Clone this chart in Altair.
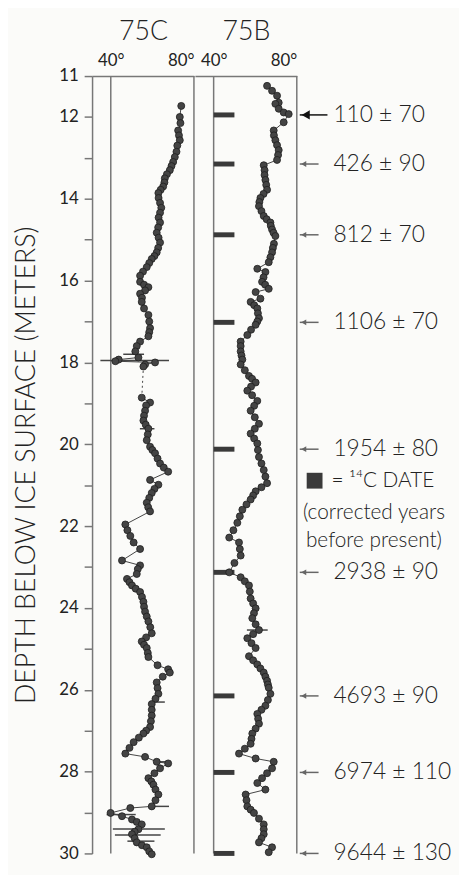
import altair as alt
import pandas as pd

# ---- data ----
c_depth = [11.73, 12.0, 12.33, 12.57, 12.85, 13.1, 13.3, 13.5, 13.7, 13.86, 14.1, 14.34, 14.58, 14.83,
           15.07, 15.31, 15.47, 15.67, 15.88, 16.03, 16.16, 16.32, 16.52, 16.84, 17.16, 17.36, 17.49,
           17.73, 17.88, 17.93, 17.97, 18.0, 18.05, 18.1,
           18.86, 18.98, 19.18, 19.42, 19.62, 19.9, 20.06, 20.22, 20.47, 20.67, 20.87, 20.99, 21.19,
           21.43, 21.64, 21.96, 22.24, 22.4, 22.56, 22.84, 22.96, 23.17, 23.29, 23.45, 23.61, 23.85,
           24.09, 24.33, 24.62, 24.82, 24.98, 25.2, 25.4, 25.5, 25.58, 25.82, 26.1, 26.35, 26.63,
           26.91, 27.07, 27.28, 27.56, 27.64, 27.76, 27.8, 27.92, 28.16, 28.32, 28.56, 28.85, 28.89,
           29.01, 29.09, 29.17, 29.29, 29.41, 29.53, 29.73, 29.85, 30.02]
c_val = [73.9, 73.2, 72.4, 73.2, 71.6, 70.0, 68.4, 66.0, 65.2, 62.9, 63.7, 63.7, 63.7, 62.1,
         63.7, 62.1, 59.7, 57.3, 54.1, 54.1, 58.1, 54.1, 54.9, 58.1, 58.9, 58.1, 54.1,
         51.8, 53.3, 43.8, 42.2, 61.3, 56.5, 55.7,
         54.9, 58.9, 56.5, 55.7, 58.1, 57.3, 58.9, 61.3, 63.7, 67.6, 58.9, 62.9, 59.7,
         57.3, 58.9, 47.0, 49.4, 51.0, 54.1, 45.4, 54.1, 52.5, 47.8, 50.2, 54.1, 55.7,
         56.5, 58.1, 59.7, 54.9, 57.3, 58.1, 62.5, 67.6, 68.4, 62.1, 62.9, 59.7, 59.7,
         58.9, 55.7, 51.0, 47.0, 56.5, 62.1, 67.6, 63.7, 58.1, 60.5, 62.9, 59.7, 49.4,
         39.9, 45.4, 50.2, 54.9, 53.3, 50.2, 52.5, 57.3, 59.7]
# further points read between the ones above
c_depth2 = [12.15, 12.45, 12.7, 12.98, 13.2, 13.4, 13.6, 13.78, 13.98, 14.22, 14.46, 14.7, 14.95,
            15.2, 15.4, 15.57, 15.78, 16.1, 16.24, 16.42, 16.68, 17.0, 17.26, 17.6,
            19.05, 19.3, 19.52, 19.76, 20.14, 20.35, 20.57, 21.09, 21.31, 21.54, 22.1, 23.05,
            23.37, 23.53, 23.73, 23.97, 24.21, 24.47, 24.72, 24.9, 25.1, 25.68, 25.96, 26.22,
            26.49, 26.77, 27.0, 27.17, 27.42, 28.04, 28.24, 28.44, 28.7, 29.23, 29.47, 29.63,
            29.8, 29.95]
c_val2 = [73.5, 72.8, 72.0, 70.8, 69.2, 67.0, 65.8, 64.0, 63.0, 64.3, 63.0, 62.8, 63.0,
          62.8, 61.0, 58.5, 55.5, 56.0, 56.5, 55.0, 56.0, 58.5, 58.5, 52.5,
          57.0, 56.0, 56.8, 57.8, 60.0, 62.5, 65.5, 61.0, 58.5, 58.0, 48.0, 53.0,
          49.0, 52.0, 55.0, 56.0, 57.3, 59.0, 57.0, 56.0, 57.8, 65.0, 62.5, 61.5,
          59.7, 59.3, 57.0, 53.5, 49.0, 61.0, 59.5, 61.5, 61.5, 52.5, 51.5, 51.5,
          55.0, 58.5]
c_gap_after = 18.1  # dashed gap between 18.1 m and 18.86 m

b_depth = [11.24, 11.36, 11.48, 11.65, 11.68, 11.8, 11.89, 11.93, 12.13, 12.33, 12.57, 12.81, 13.05,
           13.18, 13.54, 13.78, 13.98, 14.18, 14.42, 14.58, 14.75, 14.91, 15.1, 15.31, 15.55, 15.71,
           15.79, 16.03, 16.2, 16.28, 16.44, 16.52, 16.68, 16.92, 17.08, 17.33, 17.49, 17.73, 17.93,
           18.05, 18.33, 18.49, 18.69, 18.94, 19.18, 19.5, 19.74, 19.98, 20.31, 20.63, 20.95, 21.15,
           21.35, 21.6, 21.92, 22.28, 22.4, 22.72, 23.13, 23.25, 23.45, 23.77, 24.01, 24.25, 24.54,
           24.74, 24.98, 25.18, 25.38, 25.58, 25.78, 25.95, 26.1, 26.39, 26.59, 26.83, 27.07, 27.32,
           27.56, 27.68, 27.76, 27.92, 28.04, 28.28, 28.44, 28.56, 28.85, 29.01, 29.29, 29.53, 29.73,
           29.85, 29.97]
b_val = [65.7, 68.1, 70.5, 71.3, 69.7, 71.3, 73.7, 76.1, 73.7, 68.9, 69.7, 71.3, 70.5,
         64.1, 64.9, 65.7, 62.5, 61.8, 64.1, 67.3, 68.1, 69.7, 69.0, 68.1, 66.5, 61.0,
         64.9, 63.3, 66.5, 60.2, 62.5, 57.8, 61.0, 61.8, 60.2, 56.2, 53.0, 53.0, 53.8,
         53.0, 57.0, 60.2, 56.2, 61.0, 57.8, 61.8, 57.8, 61.0, 61.8, 64.1, 65.7, 60.2,
         57.8, 53.8, 51.4, 47.5, 52.2, 53.0, 47.5, 53.0, 57.0, 57.8, 60.2, 58.6, 61.8,
         56.2, 60.2, 57.0, 61.0, 64.1, 65.7, 66.5, 67.3, 64.9, 61.0, 61.8, 58.6, 57.8,
         52.2, 60.2, 68.9, 68.1, 65.7, 61.0, 64.9, 55.4, 56.2, 59.4, 64.1, 64.1, 61.8,
         68.1, 66.5]
b_depth2 = [12.45, 12.69, 12.93, 13.3, 13.42, 13.66, 13.88, 14.08, 14.3, 14.5, 14.66, 14.83, 15.2,
            15.43, 15.92, 16.1, 16.6, 16.8, 17.0, 17.2, 17.6, 17.83, 18.19, 18.4, 18.59, 18.8,
            19.06, 19.34, 19.62, 19.86, 20.14, 20.47, 20.79, 21.05, 21.25, 21.47, 21.76, 22.1,
            22.56, 22.9, 23.35, 23.6, 23.89, 24.13, 24.4, 24.64, 24.86, 25.28, 25.48, 25.68,
            25.87, 26.25, 26.49, 26.71, 26.95, 27.2, 27.44, 28.16, 28.7, 28.93, 29.15, 29.41, 29.63]
b_val2 = [69.0, 70.5, 71.0, 64.5, 64.5, 65.3, 64.0, 62.0, 63.0, 65.5, 67.5, 68.8, 68.5,
          67.3, 64.0, 64.8, 59.5, 61.3, 61.0, 58.0, 53.0, 53.4, 55.0, 58.5, 58.0, 58.5,
          59.5, 59.8, 59.8, 59.5, 61.3, 63.0, 64.9, 63.0, 59.0, 55.8, 52.6, 49.5,
          52.6, 50.0, 55.0, 57.4, 59.0, 59.4, 60.2, 59.0, 58.2, 59.0, 62.5, 64.9,
          66.1, 66.1, 63.0, 61.4, 60.2, 58.2, 55.0, 63.3, 55.8, 57.8, 61.8, 64.1, 63.0]

# horizontal error bars
c_err_depth = [17.95, 17.8, 19.62, 26.3, 27.76, 28.85, 29.05, 29.4, 29.55, 29.7]
c_err_lo = [35.0, 46.0, 54.0, 61.0, 62.0, 58.0, 38.0, 41.0, 42.0, 48.0]
c_err_hi = [68.0, 56.0, 61.0, 66.0, 69.0, 68.0, 52.0, 66.0, 64.0, 61.0]
b_err_depth = [24.54]
b_err_lo = [56.0]
b_err_hi = [66.0]

# 14C dates (75B)
date_depth = [11.95, 13.15, 14.88, 17.02, 20.12, 23.13, 26.15, 28.02, 30.0]
date_label = ["110 ± 70", "426 ± 90", "812 ± 70", "1106 ± 70", "1954 ± 80",
              "2938 ± 90", "4693 ± 90", "6974 ± 110", "9644 ± 130"]

legend_lines = ["= ¹⁴C DATE", "(corrected years", "before present)"]
legend_depth = [20.89, 21.68, 22.36]

frame_lines = [40, 80]
x_ticks = [40, 80]
y_ticks = list(range(11, 31))

FONT = "Lato"
GREY = "#777777"
PW = 103
PH = 786
YDOM = [11, 30]
XDOM = [31, 80]


def ysc():
    return alt.Scale(domain=YDOM, reverse=True, nice=False, zero=False)


def xsc():
    return alt.Scale(domain=XDOM, nice=False, zero=False)


def core_panel(name, depth, val, err_d, err_lo, err_hi, show_y, gap=None, dates=None):
    df = pd.DataFrame({"depth": depth, "val": val}).sort_values("depth").reset_index(drop=True)
    if gap is not None:
        df["seg"] = [0 if d <= gap else 1 for d in df["depth"]]
    else:
        df["seg"] = 0
    x_axis = alt.Axis(orient="top", values=x_ticks, labelExpr="datum.value + '°'", ticks=False,
                      grid=False, domainColor=GREY, domainWidth=1.5, labelFontSize=17,
                      labelFont=FONT, labelColor="#222", labelPadding=7,
                      title=name, titleFontSize=27, titleFont=FONT, titleFontWeight=300,
                      titleColor="#222", titlePadding=6)
    if show_y:
        y_axis = alt.Axis(values=y_ticks,
                          labelExpr="(datum.value == 11 || datum.value % 2 == 0) ? datum.label : ''",
                          tickSize=8, tickColor=GREY, tickWidth=1.5, domainColor=GREY, domainWidth=1.5,
                          grid=False, labelFontSize=17, labelFont=FONT, labelColor="#222",
                          labelPadding=6, title="DEPTH BELOW ICE SURFACE (METERS)",
                          titleFontSize=27, titleFont=FONT, titleFontWeight=300, titleColor="#222",
                          titlePadding=18)
    else:
        y_axis = None

    def X(f):
        return alt.X(f, scale=xsc(), axis=x_axis)

    def Y(f):
        return alt.Y(f, scale=ysc(), axis=y_axis)

    layers = []
    layers.append(alt.Chart(pd.DataFrame({"v": frame_lines, "d0": [YDOM[0]] * 2, "d1": [YDOM[1]] * 2}))
                  .mark_rule(color=GREY, strokeWidth=1.5)
                  .encode(x=X("v:Q"), y=Y("d0:Q"), y2="d1:Q"))
    layers.append(alt.Chart(df).mark_line(color="#444", strokeWidth=1).encode(
        x=X("val:Q"), y=Y("depth:Q"), detail="seg:N", order="depth:Q"))
    if gap is not None:
        i = int(df.index[df["depth"] <= gap].max())
        gdf = df.iloc[[i, i + 1]][["depth", "val"]].reset_index(drop=True)
        layers.append(alt.Chart(gdf).mark_line(color="#444", strokeWidth=1, strokeDash=[2, 3]).encode(
            x=X("val:Q"), y=Y("depth:Q")))
    if dates is not None:
        ddf = pd.DataFrame({"d": dates, "a": [40] * len(dates), "b": [50] * len(dates)})
        layers.append(alt.Chart(ddf).mark_rule(color="#3a3a3a", strokeWidth=5).encode(
            x=X("a:Q"), x2="b:Q", y=Y("d:Q")))
    layers.append(alt.Chart(pd.DataFrame({"d": err_d, "lo": err_lo, "hi": err_hi})).mark_rule(
        color="#444", strokeWidth=1.5).encode(x=X("lo:Q"), x2="hi:Q", y=Y("d:Q")))
    layers.append(alt.Chart(df).mark_point(filled=True, shape="circle", size=50, fill="#444",
                                           stroke="#1e1e1e", strokeWidth=0.8, opacity=1).encode(
        x=X("val:Q"), y=Y("depth:Q")))
    return alt.layer(*layers).properties(width=PW, height=PH)


pc = core_panel("75C", c_depth + c_depth2, c_val + c_val2, c_err_depth, c_err_lo, c_err_hi,
                True, gap=c_gap_after)
pb = core_panel("75B", b_depth + b_depth2, b_val + b_val2, b_err_depth, b_err_lo, b_err_hi,
                False, dates=date_depth)

# annotation panel
AW = 158


def AX(f):
    return alt.X(f, scale=alt.Scale(domain=[0, AW], nice=False, zero=False), axis=None)


def AY(f):
    return alt.Y(f, scale=ysc(), axis=None)


adf = pd.DataFrame({"d": date_depth, "lab": date_label,
                    "x0": [2] * len(date_depth),
                    "x1": [30] + [21] * (len(date_depth) - 1),
                    "tx": [36] * len(date_depth)})
first = adf.iloc[:1].reset_index(drop=True)
rest = adf.iloc[1:].reset_index(drop=True)


def arrows(df, color, size, off):
    ln = alt.Chart(df).mark_rule(strokeWidth=1.5, color=color).encode(
        x=AX("x0:Q"), x2="x1:Q", y=AY("d:Q"))
    hd = alt.Chart(df).mark_point(shape="triangle-left", filled=True, opacity=1, color=color,
                                  size=size, xOffset=off).encode(x=AX("x0:Q"), y=AY("d:Q"))
    return [ln, hd]


date_text = alt.Chart(adf).mark_text(align="left", baseline="middle", fontSize=23, font=FONT,
                                     fontWeight=300, color="#222").encode(
    x=AX("tx:Q"), y=AY("d:Q"), text="lab:N")

ldf = pd.DataFrame({"d": legend_depth, "t": legend_lines, "x": [34, 77, 77]})
leg_sq = alt.Chart(pd.DataFrame({"d": [legend_depth[0]], "x": [17]})).mark_square(
    size=256, filled=True, color="#3a3a3a", opacity=1).encode(x=AX("x:Q"), y=AY("d:Q"))
leg_t1 = alt.Chart(ldf.iloc[:1].reset_index(drop=True)).mark_text(
    align="left", baseline="middle", fontSize=21, font=FONT, fontWeight=300, color="#222").encode(
    x=AX("x:Q"), y=AY("d:Q"), text="t:N")
leg_t2 = alt.Chart(ldf.iloc[1:].reset_index(drop=True)).mark_text(
    align="center", baseline="middle", fontSize=21, font=FONT, fontWeight=300, color="#222").encode(
    x=AX("x:Q"), y=AY("d:Q"), text="t:N")

pa = alt.layer(*arrows(first, "#111", 90, 6), *arrows(rest, "#666", 35, 4),
               date_text, leg_sq, leg_t1, leg_t2).properties(width=AW, height=PH)

chart = alt.hconcat(pc, pb, pa, spacing=0).configure_view(strokeWidth=0).properties(
    background="#fbfbf9")

chart.save("out.html", embed_options={"renderer": "svg", "actions": False})
